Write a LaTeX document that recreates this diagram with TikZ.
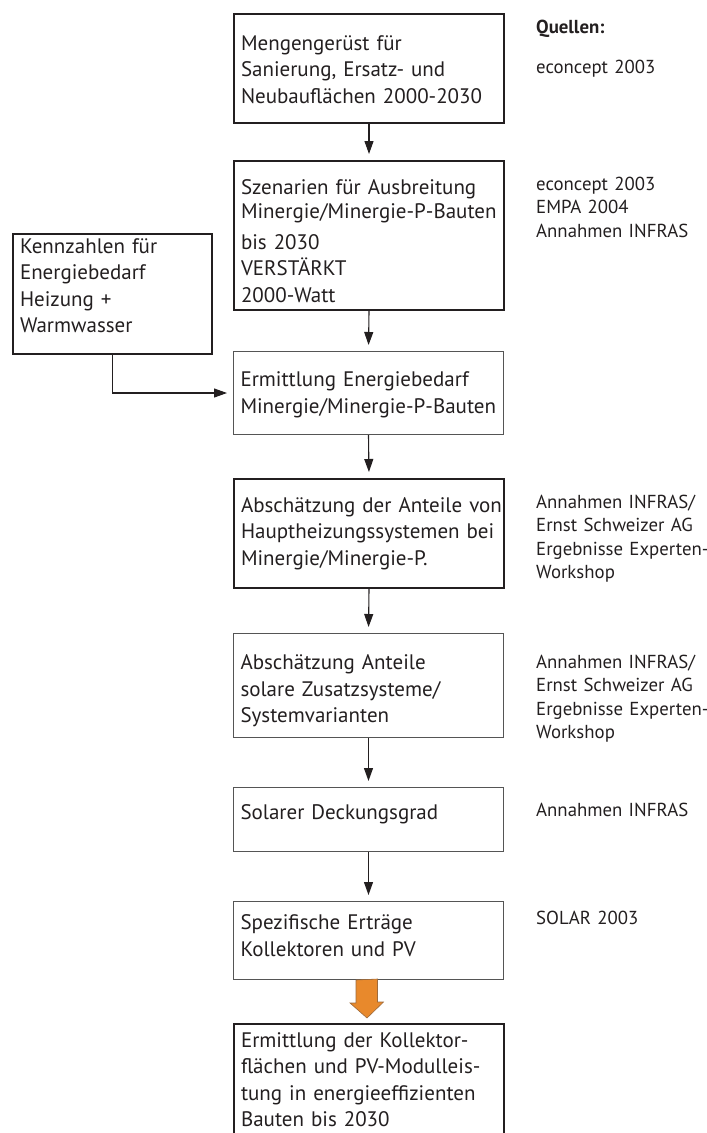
\documentclass[tikz,border=0pt]{standalone}
\usepackage{fontspec}
\setmainfont{PT Sans}
\usetikzlibrary{arrows.meta}
\hyphenpenalty=10000
\exhyphenpenalty=10000

\definecolor{ink}{HTML}{231F20}
\definecolor{rim}{HTML}{555555}
\definecolor{fatorange}{HTML}{E8892C}
\definecolor{fatrim}{HTML}{9C6A3C}

\tikzset{
  box/.style={anchor=north west, text width=256pt, align=left, inner xsep=7pt, inner ysep=0pt,
    text=ink, font=\fontsize{21}{26.5}\selectfont},
  heavy/.style={box, draw=ink, line width=2pt},
  light/.style={box, draw=rim, line width=1pt},
  source/.style={anchor=base west, text width=168pt, align=left, inner sep=0pt, text=ink,
    font=\fontsize{18.8}{23.5}\selectfont},
  flow/.style={draw=ink, line width=1.1pt, shorten >=6pt, -{Triangle[length=13pt,width=9pt]}},
  fat/.style={draw=fatrim, line width=0.6pt, fill=fatorange, line join=miter}
}

\begin{document}
\begin{tikzpicture}[x=1pt,y=-1pt]
\useasboundingbox (0,0) rectangle (707,1133);
\clip (0,0) rectangle (707,1133);

% main chain of steps
\node[heavy, text height=36pt, text depth=73pt] (mengen) at (233,13)
  {Mengengerüst für\\Sanierung, Ersatz- und\\\mbox{Neubauflächen 2000-2030}};
\node[heavy, text height=33pt, text depth=116pt] (szen) at (233,160)
  {Szenarien für Ausbreitung\\[-2.5pt]\mbox{Minergie/Minergie-P-Bauten}\\[4.5pt]bis 2030\\VERSTÄRKT\\2000-Watt};
\node[light, text height=35pt, text depth=48pt] (ermitt) at (233,351)
  {Ermittlung Energiebedarf\\\mbox{Minergie/Minergie-P-Bauten}};
\node[heavy, text height=33pt, text depth=76pt] (anteile) at (233,478)
  {\mbox{Abschätzung der Anteile von}\\\mbox{Hauptheizungssystemen bei}\\Minergie/Minergie-P.};
\node[light, text height=36pt, text depth=68pt] (zusatz) at (233,633)
  {Abschätzung Anteile\\solare Zusatzsysteme/\\Systemvarianten};
\node[light, text height=32pt, text depth=32pt] (deckung) at (233,787)
  {Solarer Deckungsgrad};
\node[light, text height=28pt, text depth=50pt] (ertrag) at (233,901)
  {Spezifische Erträge\\Kollektoren und PV};
\node[heavy, text height=23pt, text depth=104pt] (flaechen) at (233,1023)
  {Ermittlung der Kollektor-\\\mbox{flächen und PV-Modulleis-}\\\mbox{tung in energieeffizienten}\\Bauten bis 2030};

% side input
\node[heavy, text width=185pt, text height=19pt, text depth=101pt] (kenn) at (12,233)
  {Kennzahlen für\\Energiebedarf\\Heizung +\\Warmwasser};

% sources column
\node[source, font=\fontsize{18.8}{23.5}\selectfont\bfseries] (quellen) at (536,33) {Quellen:};
\node[source] (q-mengen) at (536,73) {econcept 2003};
\node[source] (q-szen) at (536,190) {econcept 2003\\EMPA 2004\\Annahmen INFRAS};
\node[source] (q-anteile) at (536,508) {Annahmen INFRAS/\\Ernst Schweizer AG\\\mbox{Ergebnisse Experten-}\\Workshop};
\node[source] (q-zusatz) at (536,668) {Annahmen INFRAS/\\Ernst Schweizer AG\\\mbox{Ergebnisse Experten-}\\Workshop};
\node[source] (q-deckung) at (536,816) {Annahmen INFRAS};
\node[source] (q-ertrag) at (536,924) {SOLAR 2003};

% arrows
\foreach \a/\b in {mengen/szen, szen/ermitt, ermitt/anteile, anteile/zusatz, zusatz/deckung, deckung/ertrag}
  \draw[flow] (\a.south) -- (\b.north);
\draw[flow] (kenn.south) |- (ermitt.west);

% fat orange arrow into the last step
\draw[fat] ([xshift=-12.5pt]ertrag.south) -- ++(0,23) -- ++(-6,0)
  -- ([xshift=-2pt,yshift=5pt]flaechen.north) -- ++(16.5,-16) -- ++(-6,0) -- ++(0,-23) -- cycle;
\end{tikzpicture}
\end{document}
